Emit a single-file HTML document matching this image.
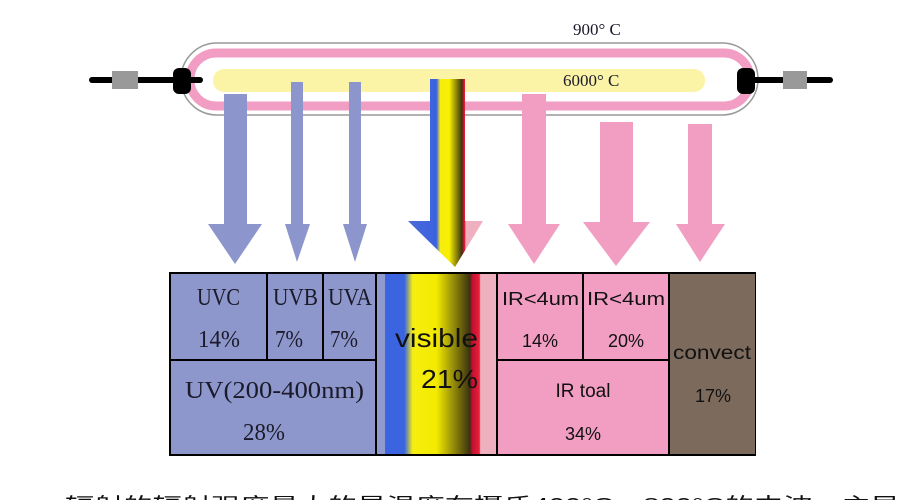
<!DOCTYPE html>
<html><head><meta charset="utf-8"><style>
html,body{margin:0;padding:0;background:#fff;width:900px;height:500px;overflow:hidden}
svg{display:block}
.s{font-family:"Liberation Serif","Noto Serif CJK SC",serif;fill:#1a1a2a}
.a{font-family:"Liberation Sans",sans-serif;fill:#111}
</style></head><body>
<svg width="900" height="500" viewBox="0 0 900 500" xmlns="http://www.w3.org/2000/svg">
<defs>
<linearGradient id="vis" gradientUnits="userSpaceOnUse" x1="408" x2="483" y1="0" y2="0">
<stop offset="0" stop-color="#4a6ad8"/><stop offset="0.38" stop-color="#3b62e0"/>
<stop offset="0.43" stop-color="#f6ec10"/><stop offset="0.55" stop-color="#f8f000"/>
<stop offset="0.72" stop-color="#3a3410"/><stop offset="0.74" stop-color="#d01030"/>
<stop offset="0.76" stop-color="#e8203a"/><stop offset="0.77" stop-color="#eeb0be"/>
<stop offset="1" stop-color="#eeb0be"/>
</linearGradient>
<linearGradient id="vb" x1="0" x2="1" y1="0" y2="0">
<stop offset="0" stop-color="#909acc"/><stop offset="0.065" stop-color="#909acc"/>
<stop offset="0.07" stop-color="#3a64e0"/><stop offset="0.23" stop-color="#3a64e0"/>
<stop offset="0.3" stop-color="#f7ee10"/><stop offset="0.5" stop-color="#f3ea00"/>
<stop offset="0.78" stop-color="#3a3210"/><stop offset="0.8" stop-color="#c01030"/>
<stop offset="0.86" stop-color="#e8203a"/><stop offset="0.87" stop-color="#eeb0be"/>
<stop offset="1" stop-color="#eeb0be"/>
</linearGradient>
</defs>
<!-- tube -->
<rect x="181" y="43" width="577" height="72" rx="36" fill="#fff" stroke="#999" stroke-width="1.5"/>
<rect x="190" y="53" width="560" height="53" rx="26" fill="none" stroke="#f29ec4" stroke-width="9"/>
<rect x="213" y="69" width="492" height="23" rx="11" fill="#fbf3a6"/>
<!-- wires -->
<line x1="92" y1="80" x2="200" y2="80" stroke="#000" stroke-width="6" stroke-linecap="round"/>
<rect x="112" y="71" width="26" height="18" fill="#999"/>
<rect x="173" y="68" width="18" height="26" rx="6" fill="#000"/>
<line x1="740" y1="80" x2="830" y2="80" stroke="#000" stroke-width="6" stroke-linecap="round"/>
<rect x="783" y="71" width="24" height="18" fill="#999"/>
<rect x="737" y="68" width="18" height="26" rx="6" fill="#000"/>
<text x="573" y="35" class="s" font-size="17" fill="#222">900° C</text>
<text x="563" y="86" class="s" font-size="17" fill="#222">6000° C</text>
<!-- arrows -->
<g fill="#8c96cc">
<polygon points="224,94 247,94 247,224 262,224 235,264 208,224 224,224"/>
<polygon points="291,82 303,82 303,224 310,224 297,262 285,224 291,224"/>
<polygon points="349,82 361,82 361,224 367,224 355,262 343,224 349,224"/>
</g>
<g fill="#f29ec2">
<polygon points="522,94 546,94 546,224 560,224 534,264 508,224 522,224"/>
<polygon points="600,122 633,122 633,222 650,222 616,266 583,222 600,222"/>
<polygon points="688,124 712,124 712,224 725,224 700,262 676,224 688,224"/>
</g>
<polygon points="430,79 465,79 465,221 483,221 455,267 408,221 430,221" fill="url(#vis)"/>
<!-- table -->
<rect x="169" y="272" width="587" height="184" fill="#000"/>
<rect x="171" y="274" width="95" height="85" fill="#8e97cc"/>
<rect x="268" y="274" width="54" height="85" fill="#8e97cc"/>
<rect x="324" y="274" width="51" height="85" fill="#8e97cc"/>
<rect x="171" y="361" width="204" height="93" fill="#8e97cc"/>
<rect x="377" y="274" width="119" height="180" fill="url(#vb)"/>
<rect x="498" y="274" width="84" height="85" fill="#f29ec2"/>
<rect x="584" y="274" width="84" height="85" fill="#f29ec2"/>
<rect x="498" y="361" width="170" height="93" fill="#f29ec2"/>
<rect x="670" y="274" width="85" height="180" fill="#7c6a5c"/>
<!-- labels -->
<text x="197" y="305" class="s" font-size="24" textLength="43" lengthAdjust="spacingAndGlyphs">UVC</text>
<text x="198" y="347" class="s" font-size="24" textLength="42" lengthAdjust="spacingAndGlyphs">14%</text>
<text x="273" y="305" class="s" font-size="24" textLength="45" lengthAdjust="spacingAndGlyphs">UVB</text>
<text x="275" y="347" class="s" font-size="24" textLength="28" lengthAdjust="spacingAndGlyphs">7%</text>
<text x="328" y="305" class="s" font-size="24" textLength="44" lengthAdjust="spacingAndGlyphs">UVA</text>
<text x="330" y="347" class="s" font-size="24" textLength="28" lengthAdjust="spacingAndGlyphs">7%</text>
<text x="185" y="398" class="s" font-size="24" fill="#3a3f5a" textLength="179" lengthAdjust="spacingAndGlyphs">UV(200-400nm)</text>
<text x="243" y="440" class="s" font-size="24" fill="#3a3f5a" textLength="42" lengthAdjust="spacingAndGlyphs">28%</text>
<text x="395" y="347" class="a" font-size="26" textLength="83" lengthAdjust="spacingAndGlyphs">visible</text>
<text x="421" y="388" class="a" font-size="26" textLength="57" lengthAdjust="spacingAndGlyphs">21%</text>
<text x="502" y="305" class="a" font-size="18" textLength="77" lengthAdjust="spacingAndGlyphs">IR&lt;4um</text>
<text x="540" y="347" class="a" font-size="18" text-anchor="middle">14%</text>
<text x="587" y="305" class="a" font-size="18" textLength="78" lengthAdjust="spacingAndGlyphs">IR&lt;4um</text>
<text x="626" y="347" class="a" font-size="18" text-anchor="middle">20%</text>
<text x="583" y="397" class="a" font-size="19" text-anchor="middle">IR toal</text>
<text x="583" y="440" class="a" font-size="18" text-anchor="middle">34%</text>
<text x="673" y="359" class="a" font-size="19" textLength="78" lengthAdjust="spacingAndGlyphs">convect</text>
<text x="713" y="402" class="a" font-size="18" text-anchor="middle">17%</text>
<!-- cut-off bottom text -->
<text x="65" y="512" font-family="'Liberation Sans','Noto Sans CJK SC',sans-serif" font-size="20" fill="#111" textLength="835" lengthAdjust="spacingAndGlyphs">辐射的辐射强度最大的是温度在摄氏400°C～800°C的中波，主导</text>
</svg>
</body></html>
